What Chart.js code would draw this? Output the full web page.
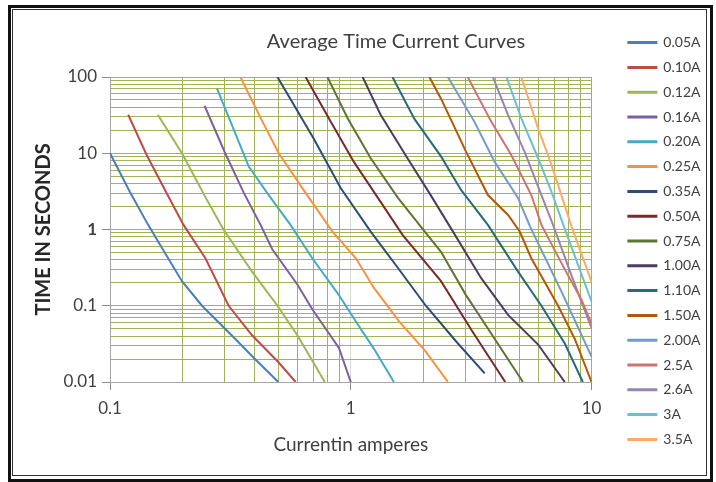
<!DOCTYPE html>
<html>
<head>
<meta charset="utf-8">
<title>Average Time Current Curves</title>
<script src="https://cdn.jsdelivr.net/npm/chart.js@4.4.1/dist/chart.umd.min.js"></script>
<style>
  html, body { margin: 0; padding: 0; background: #fff; }
  #wrap { position: relative; width: 716px; height: 482px; }
  #wrap canvas { position: absolute; left: 0; top: 0; }
  .frame-outer { position: absolute; left: 8px; top: 5px; width: 705px; height: 477px; box-sizing: border-box; border: 3px solid #111; pointer-events: none; }
  .frame-inner { position: absolute; left: 12px; top: 9px; width: 695px; height: 467px; box-sizing: border-box; border: 1px solid #333; pointer-events: none; }
</style>
</head>
<body>
<div id="wrap">
  <canvas id="tccChart" width="716" height="482"></canvas>
  <div class="frame-outer"></div>
  <div class="frame-inner"></div>
</div>
<script>
// fuse ratings and their curves, [current A, time s]
const seriesNames = ['0.05A', '0.10A', '0.12A', '0.16A', '0.20A', '0.25A', '0.35A', '0.50A', '0.75A',
    '1.00A', '1.10A', '1.50A', '2.00A', '2.5A', '2.6A', '3A', '3.5A'];

const curve005 = [[0.1, 10], [0.121, 3.1], [0.144, 1.15], [0.16, 0.66], [0.199, 0.21], [0.241, 0.1], [0.32, 0.041], [0.4, 0.02], [0.5, 0.01]];
const curve010 = [[0.119, 32], [0.142, 9.5], [0.17, 3.2], [0.202, 1.15], [0.249, 0.42], [0.311, 0.1], [0.389, 0.041], [0.502, 0.018], [0.59, 0.01]];
const curve012 = [[0.158, 32], [0.199, 10], [0.25, 2.6], [0.296, 1.0], [0.389, 0.28], [0.496, 0.1], [0.6, 0.041], [0.78, 0.01]];
const curve016 = [[0.247, 42], [0.301, 10], [0.36, 3.0], [0.422, 1.15], [0.472, 0.55], [0.6, 0.19], [0.692, 0.09], [0.893, 0.028], [1.0, 0.01]];
const curve020 = [[0.278, 71], [0.32, 24], [0.377, 6.7], [0.45, 3.0], [0.562, 1.15], [0.692, 0.42], [0.893, 0.138], [1.05, 0.062], [1.25, 0.027], [1.51, 0.01]];
const curve025 = [[0.348, 100], [0.42, 30], [0.502, 10], [0.65, 3.0], [0.839, 0.94], [1.05, 0.42], [1.25, 0.17], [1.59, 0.062], [2.05, 0.025], [2.53, 0.01]];
const curve035 = [[0.496, 100], [0.7, 15.7], [0.908, 3.5], [1.21, 0.94], [1.54, 0.34], [2.05, 0.1], [2.74, 0.034], [3.6, 0.013]];
const curve050 = [[0.649, 100], [0.825, 26], [1.03, 7.7], [1.33, 2.3], [1.64, 0.85], [2.37, 0.21], [3.2, 0.046], [4.38, 0.01]];
const curve075 = [[0.8, 100], [0.969, 29], [1.21, 8.6], [1.57, 2.6], [2.08, 0.85], [2.37, 0.51], [3.0, 0.14], [4.0, 0.035], [5.19, 0.01]];
const curve100 = [[1.12, 100], [1.33, 32], [1.72, 8.6], [2.15, 2.8], [2.6, 1.05], [3.48, 0.23], [4.5, 0.076], [6.0, 0.031], [7.74, 0.01]];
const curve110 = [[1.49, 100], [1.84, 28], [2.37, 9.1], [2.87, 3.3], [3.71, 1.15], [4.95, 0.28], [6.19, 0.1], [7.74, 0.032], [9.2, 0.01]];
const curve150 = [[2.12, 100], [2.37, 52], [3.01, 10.5], [3.71, 2.83], [4.5, 1.55], [5.03, 0.94], [5.62, 0.42], [7.26, 0.1], [8.51, 0.037], [10, 0.01]];
const curve200 = [[2.53, 100], [3.26, 26], [3.96, 7.7], [4.95, 2.6], [5.55, 1.1], [7.5, 0.153], [10, 0.0215]];
const curve250 = [[3.06, 100], [3.83, 26], [4.64, 9.5], [5.62, 2.83], [6.19, 1.15], [7.74, 0.3], [9.08, 0.12], [10, 0.058]];
const curve260 = [[3.89, 100], [4.5, 31.7], [5.27, 10.5], [6.19, 2.83], [6.92, 1.15], [8.25, 0.25], [10, 0.051]];
const curve300 = [[4.43, 100], [5.11, 28.7], [6.0, 8.6], [6.81, 3.15], [7.74, 1.02], [8.74, 0.36], [10, 0.113]];
const curve350 = [[5.11, 100], [6.0, 21], [6.59, 9.5], [7.26, 3.84], [8.25, 1.1], [10, 0.207]];

const yDecades = [0.01, 0.1, 1, 10, 100];
const yTickLabels = ['0.01', '0.1', '1', '10', '100'];
const xDecades = [0.1, 1, 10];
const xTickLabels = ['0.1', '1', '10'];

const seriesColors = ['#4A7EBB', '#BE4B48', '#98B954', '#7D60A0', '#46AAC5', '#F69240', '#2C4D75', '#772C2A', '#5F7530',
    '#4D3B62', '#276A7C', '#B65708', '#729ACA', '#CD7371', '#9983B5', '#6FBDD1', '#F9AB6B'];
const gridGreen = '#A4B257';
const chartTitle = 'Average Time Current Curves';

const curves = [curve005, curve010, curve012, curve016, curve020, curve025, curve035, curve050, curve075,
    curve100, curve110, curve150, curve200, curve250, curve260, curve300, curve350];

// 1..9 per decade, like the excel log grid
function logGridTicks(decades) {
    const ticks = [];
    decades.forEach((d, i) => {
        if (i === decades.length - 1) {
            ticks.push({ value: d, major: true });
            return;
        }
        for (let m = 1; m < 10; m++) {
            ticks.push({ value: +(d * m).toPrecision(6), major: m === 1 });
        }
    });
    return ticks;
}

function decadeLabel(decades, labels) {
    return value => {
        const i = decades.findIndex(d => Math.abs(value - d) < d * 1e-6);
        return i >= 0 ? labels[i] : '';
    };
}

const majorTick = ctx => (ctx.tick && ctx.tick.major ? '#8C8C8C' : 'rgba(0,0,0,0)');

const titlePlugin = {
    id: 'chartTitle',
    afterDraw(chart) {
        const ctx = chart.ctx;
        ctx.save();
        ctx.font = '20px Lato';
        ctx.fillStyle = '#404040';
        ctx.textAlign = 'center';
        ctx.textBaseline = 'middle';
        ctx.fillText(chartTitle, 396, 42);
        ctx.restore();
    }
};

const datasets = seriesNames.map((name, i) => ({
    label: name,
    data: curves[i].map(([x, y]) => ({ x, y })),
    borderColor: seriesColors[i],
    backgroundColor: seriesColors[i],
    borderWidth: 2,
    pointRadius: 0,
    tension: 0,
    xAxisID: 'x',
    yAxisID: 'y'
}));

new Chart(document.getElementById('tccChart'), {
    type: 'line',
    data: { datasets },
    plugins: [titlePlugin],
    options: {
        responsive: false,
        animation: false,
        layout: { padding: { left: 0, top: 0, right: 5.5, bottom: 0 } },
        plugins: {
            legend: {
                position: 'right',
                align: 'center',
                labels: {
                    boxWidth: 28,
                    boxHeight: 1,
                    padding: 10.8,
                    color: '#404040',
                    font: { family: 'Lato', size: 14 }
                }
            },
            tooltip: { enabled: false }
        },
        scales: {
            x: {
                type: 'logarithmic',
                position: 'bottom',
                min: 0.1,
                max: 10,
                afterBuildTicks: s => { s.ticks = logGridTicks(xDecades); },
                afterFit: s => { s.height = 100; },
                grid: {
                    color: ctx => (ctx.tick && Math.abs(ctx.tick.value - 1) < 1e-6 ? '#D9D9D9' : gridGreen),
                    tickColor: majorTick,
                    tickLength: 8
                },
                border: { color: '#A6A6A6' },
                ticks: {
                    autoSkip: false,
                    maxRotation: 0,
                    padding: 8,
                    color: '#404040',
                    font: { family: 'Lato', size: 17 },
                    callback: decadeLabel(xDecades, xTickLabels)
                },
                title: {
                    display: true,
                    text: 'Currentin amperes',
                    color: '#404040',
                    font: { family: 'Lato', size: 19 },
                    padding: { top: 0, bottom: 26 }
                }
            },
            y: {
                type: 'logarithmic',
                position: 'left',
                min: 0.01,
                max: 100,
                afterBuildTicks: s => { s.ticks = logGridTicks(yDecades); },
                afterFit: s => { s.width = 110; },
                grid: { color: gridGreen, tickColor: majorTick, tickLength: 8 },
                border: { color: '#A6A6A6' },
                ticks: {
                    autoSkip: false,
                    padding: 5,
                    color: '#404040',
                    font: ctx => ({ family: 'Lato', size: 17, weight: ctx.tick && ctx.tick.value === 1 ? 'bold' : 'normal' }),
                    callback: decadeLabel(yDecades, yTickLabels)
                },
                title: {
                    display: true,
                    text: 'TIME IN SECONDS',
                    color: '#262626',
                    font: { family: 'Lato', size: 20, weight: 'bold' },
                    padding: { top: 32, bottom: 0 }
                }
            },
            // empty boxes that hold the plot where excel put it
            xTop: {
                type: 'linear',
                position: 'top',
                grid: { display: false },
                border: { display: false },
                ticks: { display: false },
                afterFit: s => { s.height = 77; }
            },
            yRight: {
                type: 'linear',
                position: 'right',
                grid: { display: false },
                border: { display: false },
                ticks: { display: false },
                afterFit: s => { s.width = 26; }
            }
        }
    }
});
</script>
</body>
</html>
